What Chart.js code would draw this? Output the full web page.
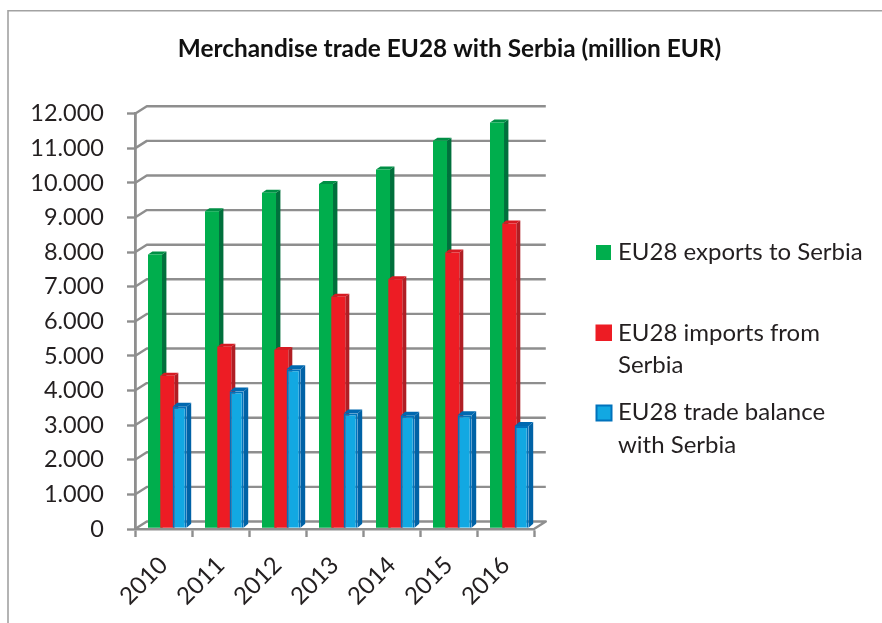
<!DOCTYPE html>
<html><head><meta charset="utf-8">
<style>html,body{margin:0;padding:0;background:#fff}canvas{display:block}</style>
<script src="https://cdn.jsdelivr.net/npm/chart.js@4/dist/chart.umd.min.js"></script>
</head><body><canvas id="c" width="882" height="623"></canvas>
<script>
const categories = ['2010','2011','2012','2013','2014','2015','2016'];
const exportsToSerbia = [7910,9160,9700,9950,10370,11200,11730];
const importsFromSerbia = [4410,5250,5150,6690,7200,7970,8810];
const tradeBalance = [3510,3950,4600,3320,3250,3270,2960];
const seriesNames = ['EU28 exports to Serbia','EU28 imports from Serbia','EU28 trade balance with Serbia'];
const legendLines = [['EU28 exports to Serbia'],['EU28 imports from','Serbia'],['EU28 trade balance','with Serbia']];
const yMax = 12000, yStep = 1000;
const titleText = 'Merchandise trade EU28 with Serbia (million EUR)';

const FONT = 'Lato, Carlito, "Open Sans", sans-serif';
const GRAY = '#8e8e8e', TEXT = '#231f20';
const styles = [
  {front:'#00ae4d', side:'#00703c', top:'#008f45', dx:4.4, dy:3},
  {front:'#ed1c24', side:'#b01e24', top:'#d61a22', dx:4, dy:3},
  {front:'#12a8e2', side:'#0062a6', top:'#0068b0', edge:'#0072bc', dx:4.6, dy:4}
];
const SHIFT = {x:3.8, y:-0.7}, WALL = {x:11.8, y:-7.5};

const scene = {
  id:'scene',
  afterLayout(chart){
    // centre the title over the whole picture, not just the plot
    chart.titleBlock.left = 17;
    chart.titleBlock.right = 882;
  },
  beforeDraw(chart){
    const c = chart.ctx;
    c.save();
    c.strokeStyle = '#a2a2a2'; c.lineWidth = 1.6;
    c.beginPath(); c.moveTo(8,623); c.lineTo(8,10.8); c.lineTo(882,10.8); c.stroke();
    c.restore();
  },
  beforeDatasetsDraw(chart){
    const c = chart.ctx, y = chart.scales.y, a = chart.chartArea;
    c.save();
    c.strokeStyle = GRAY; c.lineWidth = 2.4; c.lineJoin = 'round';
    for (let v = 0; v <= yMax; v += yStep){
      const p = y.getPixelForValue(v);
      c.beginPath();
      c.moveTo(a.left, p);
      c.lineTo(a.left + WALL.x, p + WALL.y);
      c.lineTo(a.right + WALL.x, p + WALL.y);
      if (v === 0) c.lineTo(a.right, p);
      c.stroke();
    }
    c.restore();
    // painter's order: first series at the back, last series in front
    c.save();
    c.translate(SHIFT.x, SHIFT.y);
    styles.forEach((s,i) => {
      const meta = chart.getDatasetMeta(i);
      meta.data.forEach(b => {
        const L = b.x - b.width/2, R = b.x + b.width/2, T = b.y, B = b.base;
        c.fillStyle = s.side;
        c.beginPath(); c.moveTo(R,T); c.lineTo(R+s.dx,T-s.dy); c.lineTo(R+s.dx,B-s.dy); c.lineTo(R,B); c.closePath(); c.fill();
        c.fillStyle = s.top;
        c.beginPath(); c.moveTo(L,T); c.lineTo(L+s.dx,T-s.dy); c.lineTo(R+s.dx,T-s.dy); c.lineTo(R,T); c.closePath(); c.fill();
      });
      meta.controller.draw();
    });
    c.restore();
    return false;
  },
  afterDraw(chart){
    const c = chart.ctx;
    const boxes = [{x:596,y:245,w:15,h:15},{x:595.5,y:324.5,w:16.5,h:16.5},{x:596.5,y:405.5,w:15,h:15}];
    const lineY = [[252],[333,365],[412.5,445]];
    c.save();
    c.font = '24px ' + FONT; c.fillStyle = TEXT; c.textBaseline = 'middle'; c.textAlign = 'left';
    legendLines.forEach((lines,i) => lines.forEach((t,j) => c.fillText(t, 618, lineY[i][j])));
    boxes.forEach((b,i) => {
      c.fillStyle = styles[i].front; c.fillRect(b.x,b.y,b.w,b.h);
      if (styles[i].edge){ c.strokeStyle = styles[i].edge; c.lineWidth = 2; c.strokeRect(b.x,b.y,b.w,b.h); }
    });
    c.restore();
  }
};

const dataset = (i, data) => ({
  label: seriesNames[i], data,
  backgroundColor: styles[i].front,
  borderColor: styles[i].edge || styles[i].front,
  borderWidth: styles[i].edge ? 2 : 0,
  categoryPercentage: 0.647, barPercentage: 1.14
});

new Chart(document.getElementById('c'), {
  type:'bar',
  data:{labels:categories, datasets:[dataset(0,exportsToSerbia),dataset(1,importsFromSerbia),dataset(2,tradeBalance)]},
  plugins:[scene],
  options:{
    responsive:false, animation:false,
    layout:{padding:{left:17,right:348,top:0,bottom:0}},
    plugins:{
      legend:{display:false}, tooltip:{enabled:false},
      title:{display:true,text:titleText,color:'#111',font:{family:FONT,size:24.4,weight:'bold'},padding:{top:35,bottom:49.5}}
    },
    scales:{
      x:{
        afterFit(s){s.height=94;},
        border:{display:true,color:GRAY,width:2.4},
        grid:{offset:true,drawOnChartArea:false,drawTicks:true,tickLength:8,tickColor:GRAY,tickWidth:2.4},
        ticks:{color:TEXT,font:{family:FONT,size:24},minRotation:45,maxRotation:45,padding:14}
      },
      y:{
        min:0,max:yMax,
        afterFit(s){s.width=118;},
        border:{display:true,color:GRAY,width:2.8},
        grid:{drawOnChartArea:false,drawTicks:true,tickLength:8,tickColor:GRAY,tickWidth:2.4},
        ticks:{stepSize:yStep,color:TEXT,font:{family:FONT,size:23.5},padding:23,
          callback:v=>String(v).replace(/\B(?=(\d{3})+$)/g,'.')}
      }
    }
  }
});
</script></body></html>
